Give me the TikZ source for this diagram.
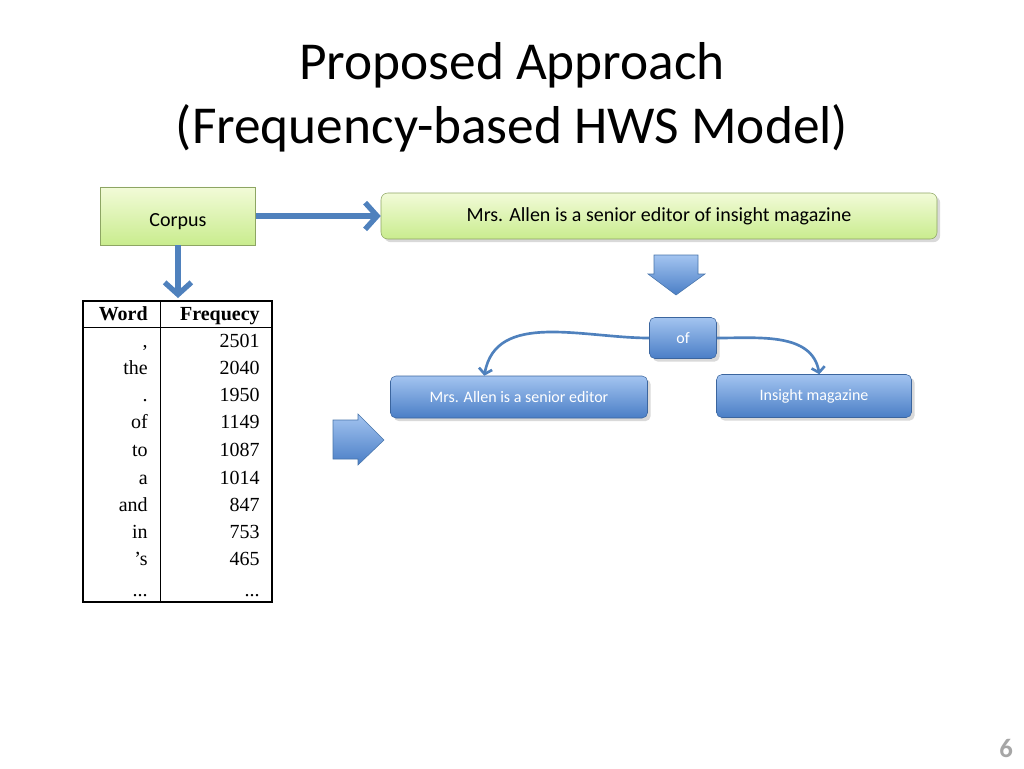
\documentclass[tikz,border=0pt]{standalone}
\usepackage{fontspec}
\setmainfont{Carlito}
\newfontfamily\tnr{Liberation Serif}
\usetikzlibrary{shapes.geometric,arrows.meta,shadows}
\definecolor{arr}{HTML}{4F81BD}
\definecolor{bluetop}{HTML}{A3C4F0}
\definecolor{bluebot}{HTML}{4A7EC6}
\definecolor{greentop}{HTML}{F2FBD8}
\definecolor{greenbot}{HTML}{C9EC8E}
\tikzset{
  bluebox/.style={draw=bluebot!80!black, rounded corners=4pt, top color=bluetop, bottom color=bluebot, text=white, font=\fontsize{12}{14}\selectfont, drop shadow={opacity=0.3}},
  greenbox/.style={draw=greenbot!70!black, rounded corners=5pt, top color=greentop, bottom color=greenbot, font=\fontsize{15}{18}\selectfont, drop shadow={opacity=0.3}},
  conn/.style={draw=arr, line width=4pt, -{Straight Barb[length=9pt,width=20pt,line width=4pt]}},
  curv/.style={draw=arr, line width=2pt, -{Straight Barb[length=4pt,width=10pt]}},
  blockarr/.style={draw=arr!90!black, top color=bluetop, bottom color=bluebot},
  cell/.style={font=\tnr\fontsize{15}{17}\selectfont, anchor=base east, inner sep=0pt},
  hcell/.style={font=\tnr\bfseries\fontsize{15}{17}\selectfont, anchor=base east, inner sep=0pt}
}
\begin{document}
\begin{tikzpicture}[x=0.75pt,y=-0.75pt]
\useasboundingbox (0,0) rectangle (1024,768);
\node[font=\fontsize{40}{48}\selectfont, align=center] (title) at (512,97) {Proposed Approach\\(Frequency-based HWS Model)};
% corpus cylinder
\node[cylinder, shape border rotate=90, aspect=0.12, minimum width=155*0.75pt, minimum height=58*0.75pt, draw=greenbot!70!black, top color=greentop, bottom color=greenbot, inner sep=0pt] (corpus) at (178,216) {};
\node[font=\fontsize{15}{18}\selectfont] (corpustxt) at (178,222) {Corpus};
\node[greenbox, minimum width=556*0.75pt, minimum height=46*0.75pt] (sent) at (659,216) {Mrs. Allen is a senior editor of insight magazine};
\coordinate (tt) at (178,298);
\draw[conn] (corpus.east) -- (sent.west);
\draw[conn] (corpus.south) -- (tt);
% table
\draw[line width=0.8pt] (83,301) rectangle (272,602);
\draw[line width=0.6pt] (160,301) -- (160,602);
\draw[line width=0.6pt] (83,327) -- (272,327);
\node[hcell] (hw) at (148,320) {Word};
\node[hcell] (hf) at (260,320) {Frequecy};
\node[cell] (w1) at (148,347) {,};    \node[cell] (f1) at (260,347) {2501};
\node[cell] (w2) at (148,374) {the};  \node[cell] (f2) at (260,374) {2040};
\node[cell] (w3) at (148,401) {.};    \node[cell] (f3) at (260,401) {1950};
\node[cell] (w4) at (148,428) {of};   \node[cell] (f4) at (260,428) {1149};
\node[cell] (w5) at (148,456) {to};   \node[cell] (f5) at (260,456) {1087};
\node[cell] (w6) at (148,484) {a};    \node[cell] (f6) at (260,484) {1014};
\node[cell] (w7) at (148,511) {and};  \node[cell] (f7) at (260,511) {847};
\node[cell] (w8) at (148,538) {in};   \node[cell] (f8) at (260,538) {753};
\node[cell] (w9) at (148,565) {’s};   \node[cell] (f9) at (260,565) {465};
\node[cell] (w10) at (148,596) {...}; \node[cell] (f10) at (260,596) {...};
% block arrows
\draw[blockarr] (654,255) -- (698,255) -- (698,274) -- (705,274) -- (676,295) -- (648,274) -- (654,274) -- cycle;
\draw[blockarr] (333,420) -- (358,420) -- (358,414) -- (384,440) -- (358,465) -- (358,459) -- (333,459) -- cycle;
% tree
\node[bluebox, minimum width=67*0.75pt, minimum height=41*0.75pt] (of) at (683,338) {of};
\node[bluebox, minimum width=257*0.75pt, minimum height=42*0.75pt] (left) at (519,397) {Mrs. Allen is a senior editor};
\node[bluebox, minimum width=195*0.75pt, minimum height=43*0.75pt] (right) at (814,396) {Insight magazine};
\draw[curv] (of.west) to[out=180,in=80] ([xshift=-26pt]left.north);
\draw[curv] (of.east) to[out=0,in=100] ([xshift=4pt]right.north);
\node[font=\bfseries\fontsize{20}{24}\selectfont, text=gray!70] (pg) at (1006,748) {6};
\end{tikzpicture}
\end{document}
